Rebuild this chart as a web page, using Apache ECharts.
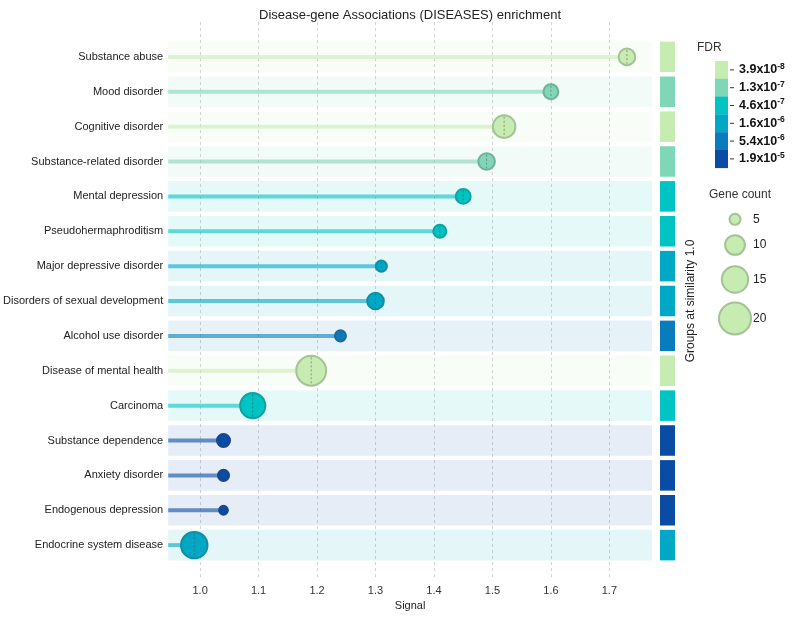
<!DOCTYPE html>
<html><head><meta charset="utf-8">
<script src="https://cdn.jsdelivr.net/npm/echarts@6/dist/echarts.min.js"></script>
<style>html,body{margin:0;padding:0;background:#fff}#c{width:792px;height:618px}</style>
</head><body><div id="c"></div>
<script>
const categories = ['Substance abuse','Mood disorder','Cognitive disorder','Substance-related disorder','Mental depression','Pseudohermaphroditism','Major depressive disorder','Disorders of sexual development','Alcohol use disorder','Disease of mental health','Carcinoma','Substance dependence','Anxiety disorder','Endogenous depression','Endocrine system disease'];
const signal = [1.73, 1.60, 1.52, 1.49, 1.45, 1.41, 1.31, 1.30, 1.24, 1.19, 1.09, 1.04, 1.04, 1.04, 0.99];
const geneCount = [8, 7, 12, 8, 7, 6, 5, 8, 5, 18, 14, 6, 5, 4, 15];
const fdr = [3.9e-8, 1.3e-7, 3.9e-8, 1.3e-7, 4.6e-7, 4.6e-7, 1.6e-6, 1.6e-6, 5.4e-6, 3.9e-8, 4.6e-7, 1.9e-5, 1.9e-5, 1.9e-5, 1.6e-6];
const fdrBreaks = [3.9e-8, 1.3e-7, 4.6e-7, 1.6e-6, 5.4e-6, 1.9e-5];
const fdrMantissa = ['3.9x10', '1.3x10', '4.6x10', '1.6x10', '5.4x10', '1.9x10'];
const fdrExponent = ['-8', '-7', '-7', '-6', '-6', '-5'];
const fdrColors = ['#c7ecb2', '#7fd7b8', '#00c3c3', '#00a8c6', '#0a7cbd', '#0a4ba3'];
const geneLegend = [5, 10, 15, 20];

const FONT = 'Liberation Sans, Arial, Helvetica, sans-serif';
function sizeOf(n) { return 9.4 * Math.sqrt(n) - 8; }
function hexRgb(h) { return [parseInt(h.slice(1,3),16), parseInt(h.slice(3,5),16), parseInt(h.slice(5,7),16)]; }
function rgba(h, a) { const c = hexRgb(h); return 'rgba(' + c[0] + ',' + c[1] + ',' + c[2] + ',' + a + ')'; }
function darken(h) { const c = hexRgb(h).map(v => Math.round(v * 0.75 + 64 * 0.25)); return 'rgb(' + c.join(',') + ')'; }
function fdrClass(v) {
  let best = 0, bd = Infinity;
  fdrBreaks.forEach((b, k) => { const d = Math.abs(Math.log(v) - Math.log(b)); if (d < bd) { bd = d; best = k; } });
  return best;
}

const rows = categories.map((c, i) => [signal[i], i, geneCount[i], fdrClass(fdr[i])]);
const HALF = 0.4375;

function renderBand(params, api) {
  const i = api.value(1);
  const col = fdrColors[api.value(3)];
  const cs = params.coordSys;
  const t = api.coord([signal[0], i - HALF]);
  const b = api.coord([signal[0], i + HALF]);
  return { type: 'rect', shape: { x: cs.x, y: t[1], width: cs.width, height: b[1] - t[1] }, style: { fill: rgba(col, 0.1) } };
}
function renderStrip(params, api) {
  const i = api.value(1);
  const col = fdrColors[api.value(3)];
  const t = api.coord([0, i - HALF]);
  const b = api.coord([1, i + HALF]);
  return { type: 'rect', shape: { x: t[0], y: t[1], width: b[0] - t[0], height: b[1] - t[1] }, style: { fill: col } };
}
function renderLollipop(params, api) {
  const i = api.value(1);
  const v = api.value(0);
  const col = fdrColors[api.value(3)];
  const p = api.coord([v, i]);
  const cs = params.coordSys;
  const r = sizeOf(api.value(2)) / 2;
  return { type: 'group', children: [
    { type: 'line', shape: { x1: cs.x, y1: p[1], x2: p[0], y2: p[1] }, style: { stroke: rgba(col, 0.6), lineWidth: 4 } },
    { type: 'circle', shape: { cx: p[0], cy: p[1], r: r - 1 }, style: { fill: col, stroke: darken(col), lineWidth: 2 } },
    { type: 'line', shape: { x1: p[0], y1: p[1] - r + 2.5, x2: p[0], y2: p[1] + r - 2.5 }, style: { stroke: 'rgba(80,80,80,0.55)', lineWidth: 1, lineDash: [2, 2] } }
  ]};
}

const graphics = [];
const legX = 715, legY = 61, blkH = 17.8;
graphics.push({ type: 'text', x: 697, y: 48, style: { text: 'FDR', font: '12px ' + FONT, fill: '#333', verticalAlign: 'middle' } });
fdrColors.forEach((c, k) => {
  graphics.push({ type: 'rect', shape: { x: legX, y: legY + k * blkH, width: 13, height: blkH + 0.3 }, style: { fill: c } });
  const cy = legY + k * blkH + blkH / 2;
  graphics.push({ type: 'line', shape: { x1: 730, y1: cy, x2: 734, y2: cy }, style: { stroke: '#333', lineWidth: 1 } });
  graphics.push({ type: 'text', x: 739, y: cy, style: {
    text: '{a|' + fdrMantissa[k] + '}{b|' + fdrExponent[k] + '}', verticalAlign: 'middle',
    rich: {
      a: { fontSize: 12.5, fontWeight: 'bold', fontFamily: FONT, fill: '#111', lineHeight: 16 },
      b: { fontSize: 8.5, fontWeight: 'bold', fontFamily: FONT, fill: '#111', lineHeight: 8, verticalAlign: 'top' }
    } } });
});
graphics.push({ type: 'text', x: 740, y: 195, style: { text: 'Gene count', font: '12px ' + FONT, fill: '#333', align: 'center', verticalAlign: 'middle' } });
const gcY = [219.3, 245, 279.5, 318.5];
geneLegend.forEach((n, k) => {
  const r = sizeOf(n) / 2;
  graphics.push({ type: 'circle', shape: { cx: 735, cy: gcY[k], r: r - 1 }, style: { fill: fdrColors[0], stroke: darken(fdrColors[0]), lineWidth: 2 } });
  graphics.push({ type: 'text', x: 753, y: gcY[k], style: { text: String(n), font: '12px ' + FONT, fill: '#222', verticalAlign: 'middle' } });
});

const chart = echarts.init(document.getElementById('c'), null, { renderer: 'canvas' });
chart.setOption({
  backgroundColor: '#fff',
  animation: false,
  textStyle: { fontFamily: FONT },
  title: { text: 'Disease-gene Associations (DISEASES) enrichment', left: 254, top: 4,
    textStyle: { fontSize: 13, fontWeight: 'normal', color: '#222', fontFamily: FONT } },
  grid: [
    { left: 167, right: 140, top: 22, bottom: 38 },
    { left: 660, right: 117, top: 22, bottom: 38 }
  ],
  xAxis: [
    { type: 'value', gridIndex: 0, min: 0.9454, max: 1.7729, splitNumber: 8,
      axisLine: { show: false }, axisTick: { show: false },
      axisLabel: { fontSize: 11, color: '#333', margin: 5, showMinLabel: false, showMaxLabel: false,
        formatter: v => (Math.abs(v * 10 - Math.round(v * 10)) < 1e-6 ? v.toFixed(1) : '') },
      splitLine: { show: true, showMinLine: false, showMaxLine: false, lineStyle: { type: [3, 3], color: '#c8c8c8', width: 0.8 } },
      name: 'Signal', nameLocation: 'middle', nameGap: 20, nameTextStyle: { fontSize: 11, color: '#222' } },
    { type: 'value', gridIndex: 1, min: 0, max: 1, show: false }
  ],
  yAxis: [
    { type: 'value', gridIndex: 0, inverse: true, min: -1, max: 15, interval: 1,
      axisLine: { show: false }, axisTick: { show: false }, splitLine: { show: false },
      axisLabel: { fontSize: 11, color: '#222', margin: 5, formatter: v => categories[v] || '' } },
    { type: 'value', gridIndex: 1, inverse: true, min: -1, max: 15, position: 'right',
      axisLine: { show: false }, axisTick: { show: false }, axisLabel: { show: false }, splitLine: { show: false },
      name: 'Groups at similarity 1.0', nameLocation: 'middle', nameRotate: 90, nameGap: 10,
      nameTextStyle: { fontSize: 12, color: '#222' } }
  ],
  series: [
    { type: 'custom', xAxisIndex: 0, yAxisIndex: 0, renderItem: renderBand, data: rows, z: 1, silent: true },
    { type: 'custom', xAxisIndex: 0, yAxisIndex: 0, renderItem: renderLollipop, data: rows, z: 3, silent: true },
    { type: 'custom', xAxisIndex: 1, yAxisIndex: 1, renderItem: renderStrip, data: rows, z: 2, silent: true }
  ],
  graphic: graphics
});
</script></body></html>
